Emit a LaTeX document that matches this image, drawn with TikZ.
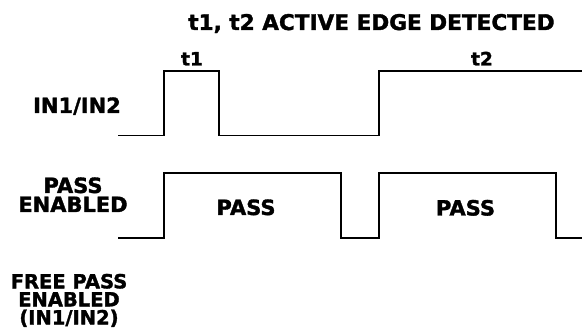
\documentclass[tikz,border=0pt]{standalone}
\usepackage{fontspec}
\setmainfont{DejaVu Sans}[BoldFeatures={FakeBold=1.6}]

\begin{document}
\begin{tikzpicture}[x=1pt, y=-1pt, line width=1.8pt, line join=miter,
    every node/.style={inner sep=0pt, align=center},
    lbl/.style={font=\bfseries\fontsize{21}{19}\selectfont},
    sml/.style={font=\bfseries\fontsize{19.5}{18}\selectfont},
    tick/.style={font=\bfseries\fontsize{18.5}{18}\selectfont}]
  \useasboundingbox (0,0) rectangle (582,334);
  
  \node[lbl, font=\bfseries\fontsize{21.6}{19}\selectfont, anchor=base] (T) at (371.5,30) {t1, t2 ACTIVE EDGE DETECTED};
  \node[tick, anchor=base] (T1) at (192,65.5) {t1};
  \node[tick, anchor=base] (T2) at (482,65.5) {t2};
  \node[lbl, anchor=base] (IN) at (77,113) {IN1/IN2};
  \node[lbl, anchor=north] (PE) at (73,176.5) {PASS\\ENABLED};
  \node[sml, anchor=north] (FP) at (69,273) {FREE PASS\\ENABLED\\(IN1/IN2)};
  \node[lbl, anchor=base] (P1) at (246,215) {PASS};
  \node[lbl, anchor=base] (P2) at (465.5,215.5) {PASS};
  
  \draw (118,135.5) -- (164,135.5) -- (164,70.7) -- (219,70.7) -- (219,135.5)
    -- (378.7,135.5) -- (378.7,70.7) -- (584,70.7);
  \draw (118,237.7) -- (164,237.7) -- (164,172.7) -- (341,172.7) -- (341,237.7)
    -- (378.7,237.7) -- (378.7,172.7) -- (556,172.7) -- (556,237.7) -- (584,237.7);
\end{tikzpicture}
\end{document}
